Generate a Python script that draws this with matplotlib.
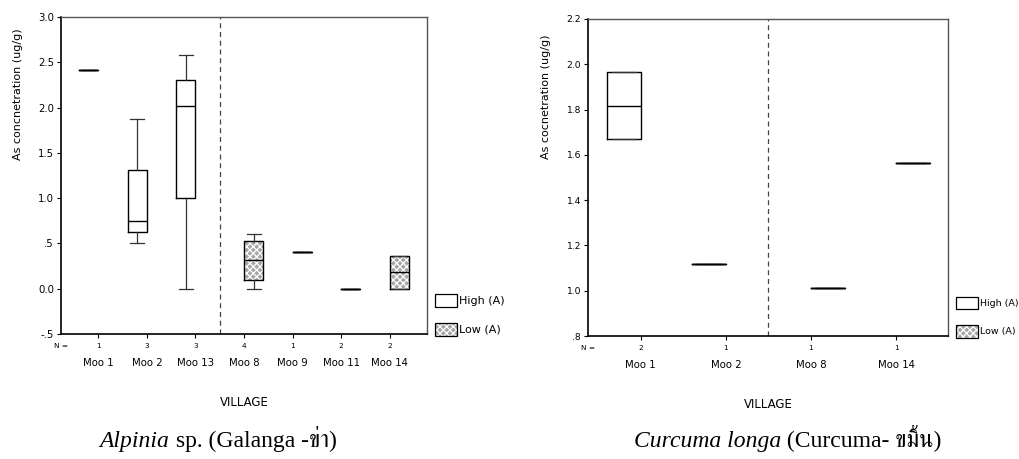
import matplotlib
matplotlib.use('Agg')
import matplotlib.pyplot as plt
from matplotlib import font_manager
from matplotlib.ft2font import FT2Font
from matplotlib.patches import Patch


##DATA##########################################################################
# Alpinia sp. (Galanga)
villages_a = ['Moo 1', 'Moo 2', 'Moo 13', 'Moo 8', 'Moo 9', 'Moo 11', 'Moo 14']
n_a = [1, 3, 3, 4, 1, 2, 2]
group_a = ['High', 'High', 'High', 'Low', 'Low', 'Low', 'Low']
whislo_a = [2.42, 0.51, 0.00, 0.00, 0.41, 0.00, 0.00]
q1_a = [2.42, 0.63, 1.005, 0.096, 0.41, 0.00, 0.00]
med_a = [2.42, 0.748, 2.017, 0.317, 0.41, 0.00, 0.185]
q3_a = [2.42, 1.311, 2.30, 0.523, 0.41, 0.00, 0.366]
whishi_a = [2.42, 1.874, 2.576, 0.608, 0.41, 0.00, 0.366]
yticks_a = [-0.5, 0.0, 0.5, 1.0, 1.5, 2.0, 2.5, 3.0]
yticklabels_a = ['-.5', '0.0', '.5', '1.0', '1.5', '2.0', '2.5', '3.0']

# Curcuma longa (Curcuma)
villages_c = ['Moo 1', 'Moo 2', 'Moo 8', 'Moo 14']
n_c = [2, 1, 1, 1]
group_c = ['High', 'High', 'Low', 'Low']
whislo_c = [1.671, 1.12, 1.012, 1.562]
q1_c = [1.671, 1.12, 1.012, 1.562]
med_c = [1.817, 1.12, 1.012, 1.562]
q3_c = [1.964, 1.12, 1.012, 1.562]
whishi_c = [1.964, 1.12, 1.012, 1.562]
yticks_c = [0.8, 1.0, 1.2, 1.4, 1.6, 1.8, 2.0, 2.2]
yticklabels_c = ['.8', '1.0', '1.2', '1.4', '1.6', '1.8', '2.0', '2.2']
################################################################################


# look for any installed font that has Thai glyphs
thai_font = None
for f in font_manager.fontManager.ttflist:
    try:
        if 0x0E02 in FT2Font(f.fname).get_charmap():
            thai_font = f.name
            if 'Serif' in f.name:
                break
    except Exception:
        pass
cap_family = ['Liberation Serif'] + ([thai_font] if thai_font else []) + ['DejaVu Serif']

plt.rcParams['font.family'] = ['DejaVu Sans']
plt.rcParams['hatch.linewidth'] = 0.9

LOW_FACE = '#a6a6a6'


def draw_panel(ax, villages, n, groups, whislo, q1, med, q3, whishi,
               yticks, yticklabels, divider, ylabel, fs, capw, leg_fs):
    pos = [i + (-0.2 if g == 'High' else 0.2) for i, g in enumerate(groups)]
    stats = [dict(whislo=a, q1=b, med=c, q3=d, whishi=e, fliers=[])
             for a, b, c, d, e in zip(whislo, q1, med, q3, whishi)]
    low_stats = [s for s, g in zip(stats, groups) if g == 'Low']
    low_pos = [p for p, g in zip(pos, groups) if g == 'Low']
    # hatched fill for the low group
    ax.bxp(low_stats, positions=low_pos, widths=0.4, patch_artist=True,
           showcaps=False, manage_ticks=False,
           boxprops=dict(facecolor=LOW_FACE, edgecolor='white', hatch='xxxxx', linewidth=0),
           whiskerprops=dict(linewidth=0), medianprops=dict(linewidth=0))
    # outlines for everything
    ax.bxp(stats, positions=pos, widths=0.4, capwidths=capw, manage_ticks=False,
           boxprops=dict(color='black', linewidth=1.0),
           whiskerprops=dict(color='#333333', linewidth=0.9),
           capprops=dict(color='#333333', linewidth=0.9),
           medianprops=dict(color='black', linewidth=1.0))

    ax.axvline(divider, color='#444444', linestyle=(0, (4, 3)), linewidth=0.9)

    ax.set_xlim(-0.77 if len(villages) > 4 else -0.62,
                len(villages) - 1 + (0.77 if len(villages) > 4 else 0.61))
    ax.set_ylim(yticks[0], yticks[-1])
    ax.set_yticks(yticks, yticklabels)
    ax.set_xticks(range(len(villages)), villages)
    ax.tick_params(axis='y', direction='out', length=3, width=0.8, labelsize=fs, pad=2)
    ax.tick_params(axis='x', direction='out', length=3, width=0.8, labelsize=7.3, pad=14.5)

    for sp in ['left', 'bottom']:
        ax.spines[sp].set_linewidth(1.2)
        ax.spines[sp].set_color('black')
    for sp in ['top', 'right']:
        ax.spines[sp].set_linewidth(1.0)
        ax.spines[sp].set_color('#555555')

    ax.annotate('N =', xy=(0, 0), xycoords='axes fraction', xytext=(0, -8.5),
                textcoords='offset points', ha='center', va='center', fontsize=5.3)
    for i, cnt in enumerate(n):
        ax.annotate(str(cnt), xy=(i, 0), xycoords=('data', 'axes fraction'),
                    xytext=(0, -8.5), textcoords='offset points',
                    ha='center', va='center', fontsize=5.3)

    ax.text(0.5, -0.215, 'VILLAGE', transform=ax.transAxes, ha='center', va='center', fontsize=8.5)
    ax.text(-0.117, 0.755, ylabel, transform=ax.transAxes, rotation=90,
            ha='center', va='center', fontsize=8)

    high_h = Patch(facecolor='white', edgecolor='black', linewidth=0.9)
    low_h = (Patch(facecolor=LOW_FACE, edgecolor='white', hatch='xxxxx', linewidth=0),
             Patch(facecolor='none', edgecolor='black', linewidth=0.9))
    ax.legend([high_h, low_h], ['High (A)', 'Low (A)'], loc='lower left',
              bbox_to_anchor=(1.022, -0.005), frameon=False, fontsize=leg_fs,
              handlelength=2.0 * 8 / leg_fs, handleheight=1.4 * 8 / leg_fs,
              handletextpad=0.2, labelspacing=1.45 * 8 / leg_fs,
              borderpad=0, borderaxespad=0)


def caption(fig, xc, y, parts):
    # parts: list of (text, style); drawn side by side, centred on xc (pixels)
    r = fig.canvas.get_renderer()
    texts = [fig.text(0, y / fig.bbox.height, s, fontsize=17, style=st,
                      family=cap_family, va='baseline') for s, st in parts]
    widths = [t.get_window_extent(r).width for t in texts]
    x = xc - sum(widths) / 2
    for t, w in zip(texts, widths):
        t.set_x(x / fig.bbox.width)
        x += w


fig = plt.figure(figsize=(10.2, 4.59), dpi=100)
W, H = 1020, 459
ax1 = fig.add_axes([61 / W, 1 - 334 / H, 366 / W, 317 / H])
ax2 = fig.add_axes([588 / W, 1 - 336 / H, 360 / W, 317 / H])

draw_panel(ax1, villages_a, n_a, group_a, whislo_a, q1_a, med_a, q3_a, whishi_a,
           yticks_a, yticklabels_a, 2.5, 'As concnetration (ug/g)', 7.3, 0.28, 8)
draw_panel(ax2, villages_c, n_c, group_c, whislo_c, q1_c, med_c, q3_c, whishi_c,
           yticks_c, yticklabels_c, 1.5, 'As cocnetration (ug/g)', 6.6, 0.28, 6.8)

caption(fig, 218, H - 447, [('Alpinia', 'italic'), (' sp. (Galanga -ข่า)', 'normal')])
caption(fig, 788, H - 447, [('Curcuma longa', 'italic'), (' (Curcuma- ขมิ้น)', 'normal')])

fig.savefig('out.png', dpi=100)
